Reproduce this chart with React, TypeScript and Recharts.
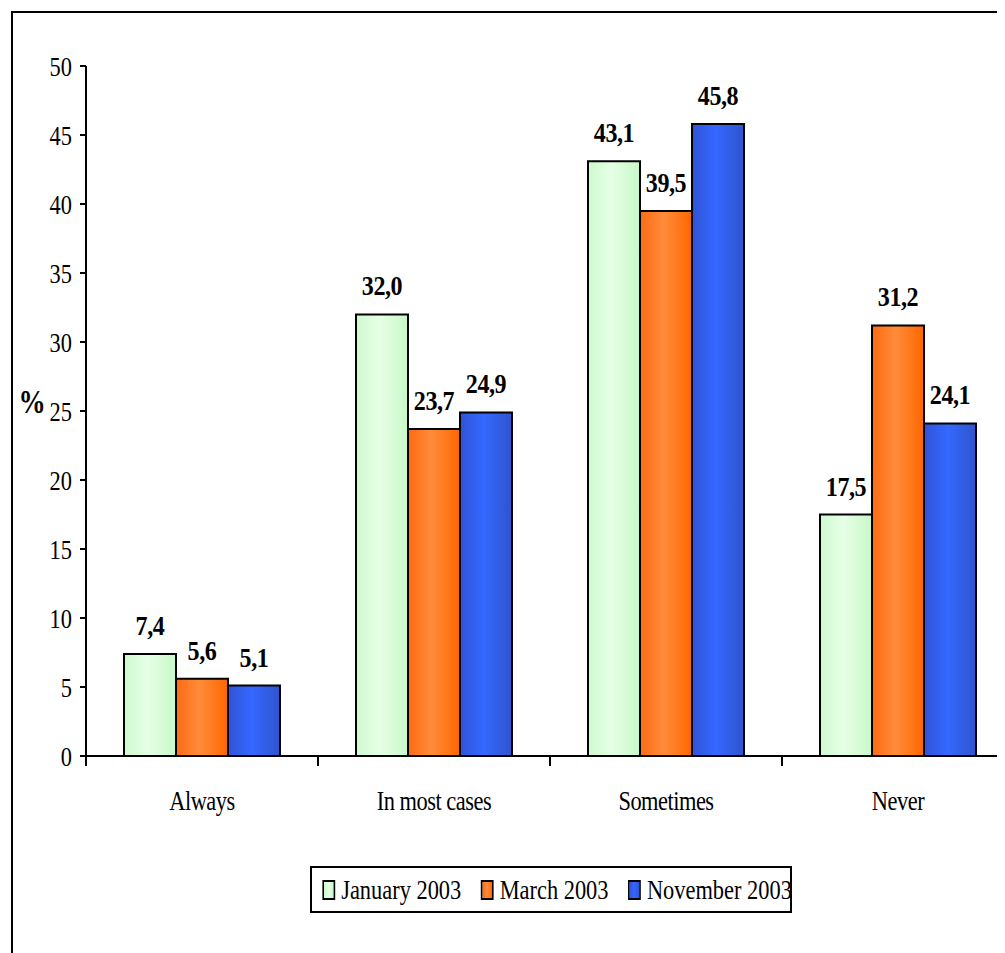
import { BarChart, Bar, XAxis, YAxis, Legend, LabelList } from "recharts"

const answers = ["Always", "In most cases", "Sometimes", "Never"]
const january2003 = [7.4, 32.0, 43.1, 17.5]
const march2003 = [5.6, 23.7, 39.5, 31.2]
const november2003 = [5.1, 24.9, 45.8, 24.1]
const yTicks = [0, 5, 10, 15, 20, 25, 30, 35, 40, 45, 50]

const series = [
  { key: "jan", name: "January 2003", values: january2003, grad: "gJan", stops: ["#cdfacd", "#e6ffe6", "#c8f8c8"] },
  { key: "mar", name: "March 2003", values: march2003, grad: "gMar", stops: ["#ff6a14", "#ff8c3a", "#ff6600"] },
  { key: "nov", name: "November 2003", values: november2003, grad: "gNov", stops: ["#3053d6", "#3468ff", "#2f54cc"] }
]

const data = answers.map((answer, i) => ({
  answer,
  jan: january2003[i],
  mar: march2003[i],
  nov: november2003[i]
}))

const FONT = "'Liberation Serif', 'Times New Roman', serif"
const SQUEEZE = 0.8
const HALF_BAND = 116

const fmt = (v: number) => v.toFixed(1).replace(".", ",")

function CategoryTick(props: any) {
  const { x, y, payload } = props
  return (
    <g>
      <line x1={x - HALF_BAND} x2={x - HALF_BAND} y1={y - 10} y2={y} stroke="#000" strokeWidth={2} />
      <line x1={x + HALF_BAND} x2={x + HALF_BAND} y1={y - 10} y2={y} stroke="#000" strokeWidth={2} />
      <text
        transform={`translate(${x},${y + 44}) scale(${SQUEEZE},1)`}
        textAnchor="middle"
        fontFamily={FONT}
        fontSize={28}
        letterSpacing={-0.6}
        fill="#000"
      >
        {payload.value}
      </text>
    </g>
  )
}

function ValueTick(props: any) {
  const { x, y, payload } = props
  return (
    <text
      transform={`translate(${x},${y + 10}) scale(${SQUEEZE},1)`}
      textAnchor="end"
      fontFamily={FONT}
      fontSize={28}
      fill="#000"
    >
      {payload.value}
    </text>
  )
}

function ValueLabel(props: any) {
  const { x, y, width, value } = props
  return (
    <text
      transform={`translate(${x + width / 2},${y - 19}) scale(0.86,1)`}
      textAnchor="middle"
      fontFamily={FONT}
      fontWeight="bold"
      fontSize={28}
      letterSpacing={-0.5}
      fill="#000"
    >
      {fmt(value)}
    </text>
  )
}

function PercentLabel(props: any) {
  const { viewBox } = props
  return (
    <text
      transform={`translate(${viewBox.x + 24},${viewBox.y + viewBox.height / 2 + 2}) scale(${SQUEEZE},1)`}
      textAnchor="middle"
      fontFamily={FONT}
      fontWeight="bold"
      fontSize={34}
      fill="#000"
    >
      %
    </text>
  )
}

function LegendBox() {
  return (
    <div
      style={{
        width: 482,
        height: 47,
        border: "2px solid #000",
        boxSizing: "border-box",
        background: "#fff",
        overflow: "hidden"
      }}
    >
      <div
        style={{
          display: "flex",
          alignItems: "center",
          height: "100%",
          paddingLeft: 10 / SQUEEZE,
          transform: `scaleX(${SQUEEZE})`,
          transformOrigin: "left center",
          whiteSpace: "nowrap",
          fontFamily: FONT,
          fontSize: 28,
          color: "#000"
        }}
      >
        {series.map((s, i) => (
          <div key={s.key} style={{ display: "flex", alignItems: "center", marginLeft: i === 0 ? 0 : 24 }}>
            <span
              style={{
                display: "inline-block",
                width: 16,
                height: 20,
                border: "2px solid #000",
                boxSizing: "border-box",
                background: `linear-gradient(90deg, ${s.stops[0]}, ${s.stops[1]}, ${s.stops[2]})`,
                marginRight: 8
              }}
            />
            <span>{s.name}</span>
          </div>
        ))}
      </div>
    </div>
  )
}

export default function App() {
  return (
    <div style={{ position: "relative", width: 997, height: 945, overflow: "hidden", background: "#fff" }}>
      <div
        style={{
          position: "absolute",
          left: 3,
          top: 3,
          width: 1100,
          height: 1100,
          border: "2px solid #000"
        }}
      />
      <div style={{ position: "absolute", left: 0, top: 0 }}>
        <BarChart
          width={1010}
          height={945}
          data={data}
          margin={{ top: 58, right: 4, bottom: 70, left: 0 }}
          barCategoryGap={38}
          barGap={0}
        >
          <defs>
            {series.map((s) => (
              <linearGradient key={s.grad} id={s.grad} x1="0" y1="0" x2="1" y2="0">
                <stop offset="0%" stopColor={s.stops[0]} />
                <stop offset="45%" stopColor={s.stops[1]} />
                <stop offset="100%" stopColor={s.stops[2]} />
              </linearGradient>
            ))}
          </defs>
          <XAxis
            dataKey="answer"
            height={80}
            axisLine={{ stroke: "#000", strokeWidth: 2 }}
            tickLine={false}
            tickSize={10}
            tickMargin={0}
            tick={<CategoryTick />}
            interval={0}
          />
          <YAxis
            width={78}
            domain={[0, 50]}
            ticks={yTicks}
            interval={0}
            axisLine={{ stroke: "#000", strokeWidth: 2 }}
            tickLine={{ stroke: "#000", strokeWidth: 2 }}
            tickSize={6}
            tickMargin={8}
            tick={<ValueTick />}
            label={{ content: <PercentLabel /> }}
          />
          <Legend
            content={<LegendBox />}
            wrapperStyle={{ position: "absolute", left: 302, top: 858, width: 482, height: 47 }}
          />
          {series.map((s) => (
            <Bar
              key={s.key}
              dataKey={s.key}
              name={s.name}
              fill={`url(#${s.grad})`}
              stroke="#000"
              strokeWidth={2}
              isAnimationActive={false}
            >
              <LabelList dataKey={s.key} content={<ValueLabel />} />
            </Bar>
          ))}
        </BarChart>
      </div>
    </div>
  )
}
